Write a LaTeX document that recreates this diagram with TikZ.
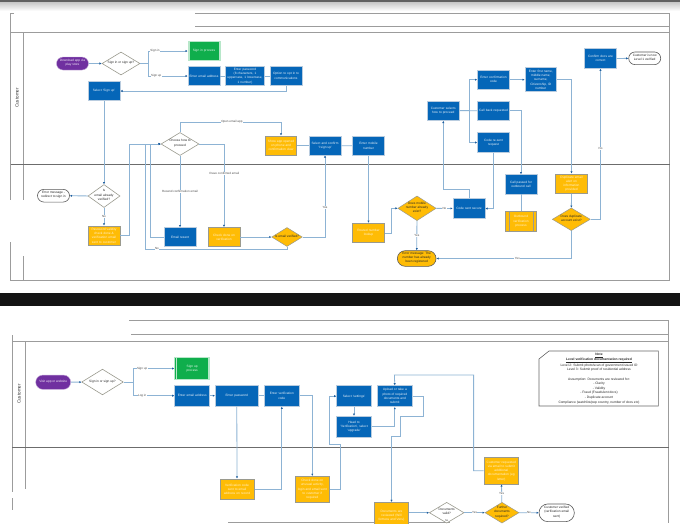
\documentclass[tikz,border=0pt]{standalone}
\usepackage{fontspec}
\setmainfont{Liberation Sans}
\usetikzlibrary{arrows.meta,shapes.geometric,shapes.misc}
\definecolor{cblue}{HTML}{0566B8}
\definecolor{cyel}{HTML}{FFBC05}
\definecolor{cgrn}{HTML}{0FAE4C}
\definecolor{cpur}{HTML}{7030A0}
\definecolor{cedge}{HTML}{B9CCDF}
\definecolor{cgedge}{HTML}{9A9A8E}
\definecolor{cline}{HTML}{8DB3D4}
\definecolor{ctip}{HTML}{1F5F9F}
\definecolor{cframe}{HTML}{9C9C9C}
\definecolor{cdiv}{HTML}{6C6C6C}
\newcommand{\fs}{\fontsize{3.2}{4.3}\selectfont\hyphenpenalty=10000\exhyphenpenalty=10000 }
\newcommand{\dm}[1]{\makebox[0pt]{\raisebox{-0.8pt}{\smash{\begin{tabular}[c]{@{}c@{}}#1\end{tabular}}}}}
\tikzset{
 x=1pt,y=-1pt,
 shape box/.style 2 args={rectangle,minimum width=#1pt,minimum height=#2pt,inner sep=0.5pt,text width=#1pt-1.5pt,align=center,font=\fs},
 bluebox/.style 2 args={shape box={#1}{#2},fill=cblue,draw=cedge,line width=0.6pt,text=white!90!cblue},
 yelbox/.style 2 args={shape box={#1}{#2},fill=cyel,draw=cgedge,line width=0.7pt,text=white!80!cyel},
 grnbox/.style 2 args={shape box={#1}{#2},fill=cgrn,draw=white!70!cgrn,line width=0.6pt,text=white!90!cgrn},
 decide/.style 2 args={diamond,/pgf/aspect/.evaluated={#1/#2},minimum width=#1pt,minimum height=#2pt,inner sep=0pt,font=\fs},
 whitedec/.style 2 args={decide={#1}{#2},fill=white,draw=cgedge,line width=0.6pt,text=black!85},
 yeldec/.style 2 args={decide={#1}{#2},fill=cyel,draw=cgedge,line width=0.5pt,text=black!85},
 pill/.style 2 args={rounded rectangle,minimum width=#1pt,minimum height=#2pt,inner sep=0pt,font=\fs},
 startp/.style 2 args={pill={#1}{#2},fill=cpur,draw=white!60!cpur,line width=0.4pt,text=white!90!cpur},
 endw/.style 2 args={pill={#1}{#2},fill=white,draw=black!65,line width=0.6pt,text=black!85},
 endy/.style 2 args={pill={#1}{#2},fill=cyel,draw=black!65,line width=0.6pt,text=black!85},
 con/.style={draw=cline,line width=0.8pt,-{Latex[length=2.2pt,width=2.2pt,color=ctip]}},
 plain/.style={draw=cline,line width=0.8pt},
 lab/.style={font=\fontsize{3}{3.6}\selectfont,text=black!70,fill=white,inner sep=0.4pt},
 frame/.style={draw=cframe,line width=1pt},
 divider/.style={draw=cdiv,line width=0.8pt},
 lane/.style={font=\fontsize{4.6}{5}\selectfont,rotate=90,text=black!80},
}
\begin{document}
\begin{tikzpicture}
\clip (0,0) rectangle (680,523);
\fill[white] (0,0) rectangle (680,523);
% top edge of the screenshot
\shade[top color=black!22,bottom color=white] (0,2) rectangle (680,11);
\fill[black!62] (0,0) rectangle (680,2);
% dark band between the two sheets
\fill[black!92] (0,293) rectangle (680,306);

% ---------- sheet 1 frame
\draw[frame] (195,13) -- (670,13);
\draw[frame] (195,26) -- (670,26);
\draw[frame] (10.5,32) -- (670,32);
\draw[frame] (14,13) -- (10.5,13) -- (10.5,200);
\draw[frame] (10.5,242) -- (10.5,280) -- (669.5,280) -- (669.5,13);
\draw[frame] (23,32) -- (23,200);
\draw[frame] (23,256) -- (23,280);
\draw[divider] (10.5,164.5) -- (669.5,164.5);
\node[lane] (laneA) at (17,98) {Customer};

% ---------- sheet 1 nodes
\node[startp={32}{13}] (s) at (72.5,63.5) {\dm{Download app via\\play store}};
\node[whitedec={38}{23}] (d1) at (121,63.5) {\dm{Sign in or sign up?}};
\node[grnbox={32}{19}] (signin) at (204,51) {Sign in process};
\draw[white!70!cgrn,line width=0.4pt] ([xshift=1.5pt]signin.north west) -- ([xshift=1.5pt]signin.south west) ([xshift=-1.5pt]signin.north east) -- ([xshift=-1.5pt]signin.south east);
\node[bluebox={32}{19}] (email) at (204,76) {Enter email address};
\node[bluebox={38.6}{19}] (pass) at (245,76) {Enter password\\(8 characters, 1\\uppercase, 1 lowercase,\\1 number)};
\node[bluebox={32}{19}] (opt) at (286,76) {Option to opt in to\\communications};
\node[bluebox={32}{19}] (sel) at (104,91) {Select ‘Sign up’};
\node[whitedec={38}{23}] (choose) at (180,144) {\dm{Choose how to\\proceed}};
\node[yelbox={31.5}{19}] (show) at (281,145.5) {Show app opened\\on phone and\\confirmation view};
\node[bluebox={32}{19}] (conf) at (325,145.5) {Select and confirm\\‘I sign up’};
\node[bluebox={32}{19.5}] (mob) at (368.5,146) {Enter mobile\\number};
\node[whitedec={32}{23}] (isver) at (104,196) {\dm{Is\\email already\\verified?}};
\node[endw={32}{12.7}] (err1) at (53.5,195.7) {\dm{Error message -\\redirect to sign in}};
\node[yelbox={32}{19}] (pwd) at (104,235.5) {Password validity\\check done \&\\verification email\\sent to customer};
\node[bluebox={32}{19}] (resent) at (180,237) {Email resent};
\node[yelbox={32}{19}] (chk) at (224,237) {Check done on\\verification};
\node[yeldec={30.6}{19}] (isem) at (287,237) {\dm{Is email verified?}};
\node[yelbox={32}{19.5}] (routed) at (368.5,233) {Routed number\\lookup};
\node[yeldec={38.3}{24.7}] (dmob) at (417,208.3) {\dm{Does mobile\\number already\\exist?}};
\node[bluebox={32}{19.6}] (code) at (469,208.5) {Code sent secure};
\node[endy={38.7}{15.6}] (err2) at (416.7,258.5) {\dm{Error message: The\\number has already\\been registered}};
\node[bluebox={32}{19.6}] (cust) at (443.3,110.8) {Customer selects\\how to proceed};
\node[bluebox={32}{19.4}] (econf) at (493.5,79.7) {Enter confirmation\\code};
\node[bluebox={32}{19.4}] (call) at (493.5,110.7) {Call back requested};
\node[bluebox={32}{19.6}] (recode) at (493.5,142.5) {Code re-sent\\request};
\node[bluebox={31.6}{24}] (fname) at (540.8,79.7) {Enter first name,\\middle name,\\surname,\\Citizenship, ID\\number};
\node[bluebox={31.6}{19.6}] (docs) at (600.5,58.5) {Confirm docs are\\correct};
\node[endw={32}{12.7}] (lvl) at (644.7,58.3) {\dm{Customer is now\\Level 1 verified}};
\node[bluebox={31.6}{19.4}] (panel) at (521,184.3) {Call passed for\\outbound call};
\node[yelbox={31.6}{19.4}] (outb) at (521,221.3) {Outbound\\verification\\process};
\draw[cgedge,line width=0.4pt] ([xshift=4pt]outb.north west) -- ([xshift=4pt]outb.south west) ([xshift=-4pt]outb.north east) -- ([xshift=-4pt]outb.south east);
\node[yelbox={31.6}{19.4}] (dup) at (571.5,183.7) {Duplicate email\\alert on\\information\\provided};
\node[yeldec={38}{22.7}] (ddup) at (571.3,219.3) {\dm{Does duplicate\\account exist?}};

% ---------- sheet 1 connectors
\draw[con] (s) -- (d1);
\draw[con] (d1.east) -- ++(8,0) |- node[lab,pos=0.586] {Sign in} (signin.west);
\draw[con] (d1.east) -- ++(8,0) |- node[lab,pos=0.6] {Sign up} (email.west);
\draw[plain] (email) -- (pass);
\draw[plain] (pass) -- (opt);
\draw[con] (opt.south) |- (sel.east);
\draw[con] (sel) -- (isver);
\draw[con] (isver) -- (err1);
\draw[con] (isver) -- node[lab] {No} (pwd);
\draw[con] (pwd.east) -- ++(9,0) |- (choose.west);
\draw[con] (resent.west) -- ++(-13,0) |- (choose.west);
\draw[con] (choose.south) -- node[lab,pos=0.5] {Resend confirmation email} (resent.north);
\draw[con] (choose.east) -| node[lab,pos=0.675] {I have confirmed email} (chk.north);
\draw[con] (choose.north) -- ++(0,-10) -| node[lab,pos=0.257] {Open email app} (show.north);
\draw[con] (chk) -- (isem);
\draw[con] (isem.east) -| node[lab,pos=0.68] {Yes} (conf.south);
\draw[con] (isem.south) -- ++(0,2.2) -| node[lab,pos=0.458] {No} (145,144) -- (choose.west);
\draw[plain] (show) -- (conf);
\draw[plain] (conf) -- (mob);
\draw[con] (mob) -- (routed);
\draw[con] (routed.east) -- ++(6.4,0) |- (dmob.west);
\draw[con] (dmob) -- node[lab] {No} (code);
\draw[con] (dmob) -- node[lab] {Yes} (err2);
\draw[con] (code.north) -- ++(0,-9.3) -| (cust.south);
\draw[plain] (cust) -- (call);
\draw[con] (cust.east) -- ++(9.4,0) |- (econf.west);
\draw[con] (cust.east) -- ++(9.4,0) |- (recode.west);
\draw[con] (recode.south) |- (code.east);
\draw[con] (call.east) -| (panel.north);
\draw[plain] (panel) -- (outb);
\draw[con] (econf) -- (fname);
\draw[con] (fname.east) -| (dup.north);
\draw[con] (dup) -- (ddup);
\draw[con] (ddup.east) -| node[lab,pos=0.735] {No} (docs.south);
\draw[con] (ddup.south) |- node[lab,pos=0.7] {Yes} (err2.east);
\draw[con] (docs) -- (lvl);

% ---------- sheet 2 frame
\draw[frame] (129,320) -- (669,320);
\draw[frame] (131,334) -- (669,334);
\draw[frame] (12,341) -- (669,341);
\draw[frame] (12,335) -- (12,492);
\draw[frame] (12,498) -- (12,510);
\draw[frame] (25.5,341) -- (25.5,489);
\draw[frame] (668.7,320) -- (668.7,523);
\draw[divider] (12,447.3) -- (668.7,447.3);
\draw[frame] (228,522.3) -- (450,522.3);
\node[lane] (laneB) at (19,394) {Customer};

% ---------- sheet 2 nodes
\node[startp={35}{14.3}] (t) at (53.2,382.2) {\dm{Visit app or website}};
\node[whitedec={41.6}{25.7}] (e1) at (102.5,382) {\dm{Sign in or sign up?}};
\node[grnbox={35}{21.6}] (signup) at (192.2,368.5) {Sign up\\process};
\draw[white!70!cgrn,line width=0.4pt] ([xshift=2pt]signup.north west) -- ([xshift=2pt]signup.south west) ([xshift=-2pt]signup.north east) -- ([xshift=-2pt]signup.south east);
\node[bluebox={35}{21.3}] (em2) at (192.2,395.7) {Enter email address};
\node[bluebox={43}{21.3}] (pw2) at (236.8,395.7) {Enter password};
\node[bluebox={35}{21.3}] (vc2) at (281.8,395.7) {Enter verification\\code};
\node[bluebox={34.6}{21}] (set) at (354,396.2) {Select ‘settings’};
\node[bluebox={34.6}{21.3}] (head) at (354,426.7) {Head to\\‘Verification’, select\\‘upgrade’};
\node[bluebox={35}{21}] (upl) at (394.8,396.2) {Upload or take a\\photo of required\\documents and\\submit};
\node[yelbox={34.3}{20.7}] (vs) at (237,489.3) {Verification code\\sent to email\\address on record};
\node[yelbox={34.7}{26}] (unu) at (312.3,489.3) {Check done on\\unusual activity,\\login and email sent\\to customer if\\required};
\node[yelbox={34.4}{27}] (rev) at (391.5,515.8) {Documents are\\reviewed (Will\\fortress and Veru)};
\node[whitedec={34.7}{20.8}] (val) at (446.7,512.7) {\dm{Documents\\valid?}};
\node[yeldec={34}{20.8}] (fur) at (502,512.7) {\dm{Further\\documents\\required?}};
\node[endw={35.3}{17.7}] (ver) at (556.7,512.8) {\dm{Customer verified\\(verification email\\sent)}};
\node[yelbox={34.7}{26.3}] (req) at (501.3,470.8) {Customer requested\\via email to submit\\additional\\documentation (eg\\letter)};
% note sheet, with its cut corner
\fill[white,draw=black!60,line width=0.6pt] (549,351) -- (658.3,351) -- (658.3,406) -- (539,406) -- (539,359) -- cycle;
\node[inner sep=0pt,align=center,font=\fontsize{3.3}{4.6}\selectfont,text=black!85] (note) at (599,378.5) {\textbf{\underline{Note}}\\\textbf{\underline{Level verification documentation required}}\\Level 2: Submit photo/scan of government issued ID\\Level 3: Submit proof of residential address\\[4.6pt]Assumption: Documents are reviewed for:\\- Clarity\\- Validity\\- Fraud (Fraudulent docs)\\- Duplicate account\\Compliance (watchlist/pep country, number of docs etc)};

% ---------- sheet 2 connectors
\draw[con] (t) -- (e1);
\draw[con] (e1.east) -- ++(10,0) |- node[lab,pos=0.605] {Sign up} (signup.west);
\draw[con] (e1.east) -- ++(10,0) |- node[lab,pos=0.605] {Log in} (em2.west);
\draw[con] (em2) -- (pw2);
\draw[plain] (pw2) -- (vc2);
\draw[con] (pw2.south) -- (vs.north);
\draw[con] (vs.east) -| (vc2.south);
\draw[con] (vc2.east) -| (unu.north);
\draw[con] (unu.east) -- ++(10,0) |- ++(-10.4,-45) |- (set.west);
\draw[con] (set) -- (head);
\draw[con] (head.east) -| (upl.south);
\draw[con] (upl.east) -- ++(10.4,0) |- ++(-22.4,20.5) |- ++(-9,20) -| (rev.north);
\draw[con] (req.west) -- ++(-10,0) |- ++(-79.2,-95.8) -- (upl.north);
\draw[con] (rev.east |- val) -- (val.west);
\draw[con] (val) -- node[lab] {Yes} (fur);
\draw[con] (fur) -- node[lab] {No} (ver);
\draw[con] (fur) -- node[lab] {Yes} (req);
\node[lab,font=\fontsize{2.6}{3}\selectfont,fill=none] (noval) at (446.7,520.6) {No};
\end{tikzpicture}
\end{document}
